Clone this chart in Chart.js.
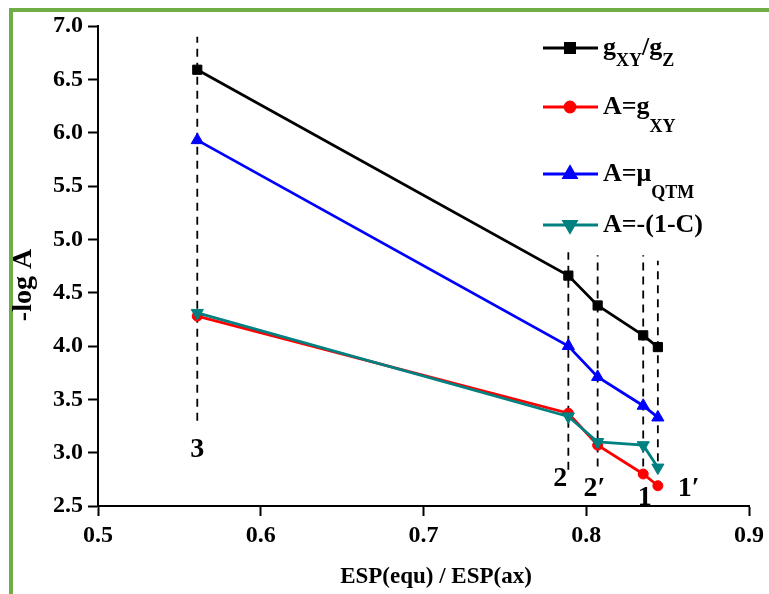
<!DOCTYPE html>
<html>
<head>
<meta charset="utf-8">
<script src="https://cdn.jsdelivr.net/npm/chart.js@4.4.0/dist/chart.umd.min.js"></script>
<style>
  html, body { margin: 0; padding: 0; background: #fff; }
  #wrap { position: relative; width: 769px; height: 594px; }
</style>
</head>
<body>
<div id="wrap"><canvas id="espChart" width="769" height="594"></canvas></div>
<script>
// ESP ratio of each complex (3, 2, 2', 1, 1')
const espRatio = [0.561, 0.789, 0.807, 0.835, 0.844];
const pointNames = ['3', '2', '2\u2032', '1', '1\u2032'];

// -log A for each descriptor
const gRatio = [6.59, 4.66, 4.38, 4.10, 3.99];     // gXY/gZ
const gXY = [4.28, 3.37, 3.07, 2.80, 2.69];        // A=gXY
const muQTM = [5.93, 4.00, 3.71, 3.44, 3.33];      // A=muQTM
const oneMinusC = [4.31, 3.34, 3.10, 3.07, 2.86];  // A=-(1-C)

// vertical dashed guides through each complex
const guideTop = [6.90, 4.88, 4.85, 4.85, 4.80];
const guideBottom = [3.30, 2.84, 2.87, 2.87, 2.92];

// where the complex numbers sit (data coords)
const nameX = [0.561, 0.784, 0.805, 0.836, 0.863];
const nameY = [3.03, 2.76, 2.66, 2.58, 2.66];

const xTicks = [0.5, 0.6, 0.7, 0.8, 0.9];
const yTicks = [2.5, 3.0, 3.5, 4.0, 4.5, 5.0, 5.5, 6.0, 6.5, 7.0];

const SERIF = '"Liberation Serif", "Times New Roman", serif';

const pts = ys => espRatio.map((x, i) => ({ x: x, y: ys[i] }));

const series = [
  { label: 'gXY/gZ', data: gRatio, color: '#000000', style: 'rect', rot: 0, r: 6.5, order: 3 },
  { label: 'A=gXY', data: gXY, color: '#ff0000', style: 'circle', rot: 0, r: 5, order: 1 },
  { label: 'A=muQTM', data: muQTM, color: '#0000ff', style: 'triangle', rot: 0, r: 7, order: 2 },
  { label: 'A=-(1-C)', data: oneMinusC, color: '#008080', style: 'triangle', rot: 180, r: 7, order: 0 }
];

const datasets = series.map(s => ({
  label: s.label,
  data: pts(s.data),
  borderColor: s.color,
  backgroundColor: s.color,
  borderWidth: 2.8,
  pointStyle: s.style,
  rotation: s.rot,
  pointRadius: s.r,
  pointBorderWidth: 1,
  order: s.order
}));

espRatio.forEach((x, i) => {
  datasets.push({
    label: 'guide' + i,
    data: [{ x: x, y: guideBottom[i] }, { x: x, y: guideTop[i] }],
    borderColor: '#000',
    borderWidth: 1.8,
    borderDash: [8, 6],
    pointRadius: 0,
    order: 5
  });
});

// legend rows: text pieces, second flag marks a subscript
const legendRows = [
  { s: 0, y: 48, drop: 13, parts: [['g', 0], ['XY', 1], ['/g', 0], ['Z', 1]] },
  { s: 1, y: 107, drop: 20, parts: [['A=g', 0], ['XY', 1]] },
  { s: 2, y: 174, drop: 19, parts: [['A=\u03bc', 0], ['QTM', 1]] },
  { s: 3, y: 225, drop: 0, parts: [['A=-(1-C)', 0]] }
];

const decorations = {
  id: 'decorations',
  beforeDraw(chart) {
    const c = chart.ctx;
    c.save();
    c.fillStyle = '#fff';
    c.fillRect(0, 0, chart.width, chart.height);
    c.fillStyle = '#70ad47';
    c.fillRect(9, 8, 4, chart.height - 8);
    c.fillRect(9, 8, chart.width - 9, 4);
    c.restore();
  },
  afterDraw(chart) {
    const c = chart.ctx;
    const xs = chart.scales.x, ys = chart.scales.y;
    c.save();
    c.fillStyle = '#000';
    c.textAlign = 'center';
    c.textBaseline = 'middle';

    // axis titles, drawn here so they can sit off the axis centre
    c.font = 'bold 23px ' + SERIF;
    c.fillText('ESP(equ) / ESP(ax)', 436, 577);
    c.save();
    c.translate(24, 285);
    c.rotate(-Math.PI / 2);
    c.font = 'bold 28px ' + SERIF;
    c.fillText('-log A', 0, 0);
    c.restore();

    c.font = 'bold 28px ' + SERIF;
    pointNames.forEach((n, i) => {
      c.fillText(n, xs.getPixelForValue(nameX[i]), ys.getPixelForValue(nameY[i]));
    });

    // legend
    legendRows.forEach(row => {
      const s = series[row.s];
      c.strokeStyle = s.color;
      c.fillStyle = s.color;
      c.lineWidth = 2.8;
      c.beginPath();
      c.moveTo(543, row.y);
      c.lineTo(598, row.y);
      c.stroke();
      Chart.helpers.drawPoint(c, { pointStyle: s.style, rotation: s.rot, radius: s.r, borderWidth: 1 }, 570, row.y);
      let x = 603;
      c.fillStyle = '#000';
      c.textAlign = 'left';
      row.parts.forEach(([t, sub]) => {
        c.font = sub ? 'bold 18px ' + SERIF : 'bold 26px ' + SERIF;
        c.fillText(t, x, row.y + (sub ? row.drop : 0));
        x += c.measureText(t).width;
      });
    });
    c.restore();
  }
};

new Chart(document.getElementById('espChart'), {
  type: 'line',
  data: { datasets: datasets },
  options: {
    responsive: false,
    animation: false,
    layout: { padding: { top: 26, right: 19, left: 0, bottom: 0 } },
    plugins: { legend: { display: false }, tooltip: { enabled: false } },
    scales: {
      x: {
        type: 'linear',
        min: 0.5,
        max: 0.9,
        afterBuildTicks: s => { s.ticks = xTicks.map(v => ({ value: v })); },
        afterFit: s => { s.height = 88; },
        ticks: {
          color: '#000',
          font: { family: SERIF, size: 24, weight: 'bold' },
          padding: 5,
          maxRotation: 0,
          callback: v => v.toFixed(1)
        },
        grid: { drawOnChartArea: false, tickLength: 10, tickWidth: 2, tickColor: '#000' },
        border: { color: '#000', width: 2 },
        title: { display: false }
      },
      y: {
        min: 2.5,
        max: 7.0,
        afterBuildTicks: s => { s.ticks = yTicks.map(v => ({ value: v })); },
        afterFit: s => { s.width = 98; },
        ticks: {
          color: '#000',
          font: { family: SERIF, size: 24, weight: 'bold' },
          padding: 5,
          callback: v => v.toFixed(1)
        },
        grid: { drawOnChartArea: false, tickLength: 10, tickWidth: 2, tickColor: '#000' },
        border: { color: '#000', width: 2 },
        title: { display: false }
      }
    }
  },
  plugins: [decorations]
});
</script>
</body>
</html>
